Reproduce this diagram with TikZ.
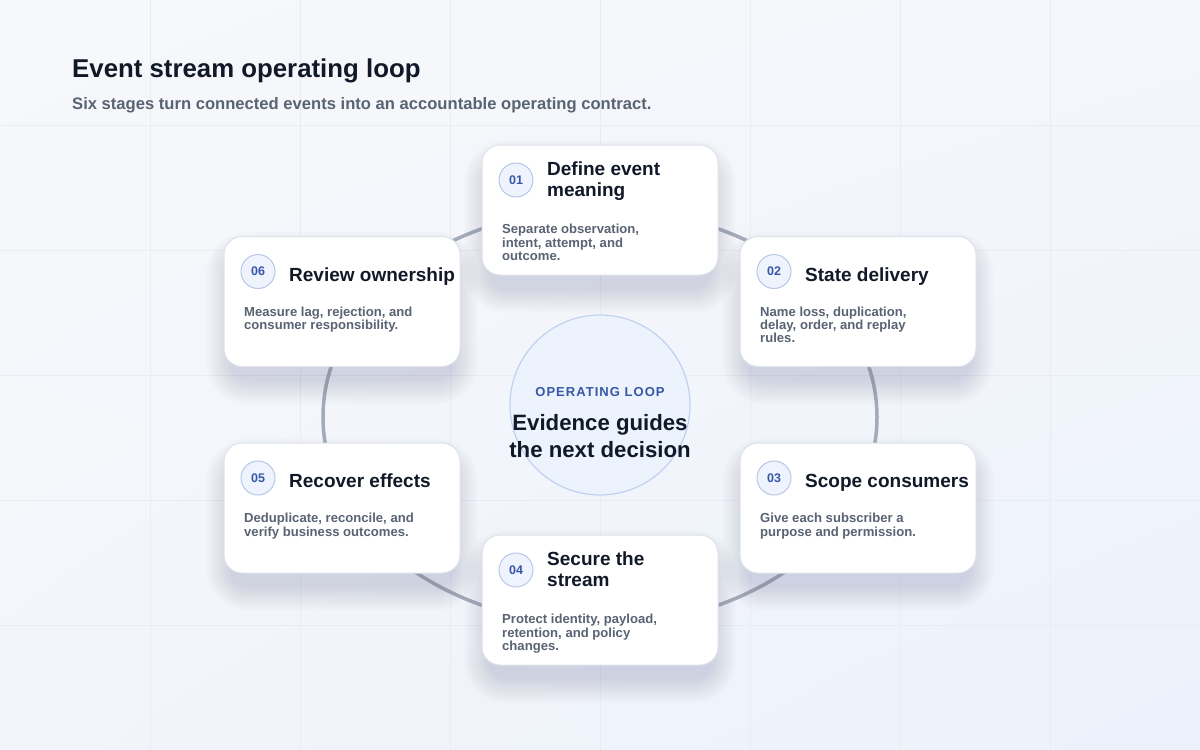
\documentclass[tikz,border=0pt]{standalone}
\usepackage{fontspec}
\setmainfont{Liberation Sans}
\usetikzlibrary{shadings}
\definecolor{bgUL}{HTML}{F7F8FB}
\definecolor{bgUR}{HTML}{F4F6FB}
\definecolor{bgLL}{HTML}{F2F5FA}
\definecolor{bgLR}{HTML}{ECF1FB}
\definecolor{gridc}{HTML}{E8ECF3}
\definecolor{ringc}{HTML}{A4ABB8}
\definecolor{cardborder}{HTML}{DDE2EA}
\definecolor{shadowc}{HTML}{2A3A6A}
\definecolor{titlec}{HTML}{111827}
\definecolor{descc}{HTML}{596373}
\definecolor{badgetext}{HTML}{3757A6}
\definecolor{badgefill}{HTML}{EEF3FD}
\definecolor{badgeborder}{HTML}{B7C8E6}
\definecolor{hubfill}{HTML}{EDF3FD}
\definecolor{hubborder}{HTML}{BFD1EE}
\tikzset{
  cardbox/.style={draw=cardborder, line width=1pt, fill=white, rounded corners=18pt,
    minimum width=236pt, minimum height=130pt, inner sep=0pt},
  badge/.style={circle, draw=badgeborder, line width=1pt, fill=badgefill, minimum size=34pt,
    inner sep=0pt, text=badgetext, font=\bfseries\fontsize{12.5}{14}\selectfont},
  stagetitle/.style={anchor=north west, inner sep=0pt, align=left, text=titlec,
    font=\bfseries\fontsize{19}{21}\selectfont},
  stagedesc/.style={anchor=north west, inner sep=0pt, align=left, text=descc,
    font=\bfseries\fontsize{13.1}{13.4}\selectfont},
  ringline/.style={draw=ringc, line width=3.5pt},
}
% #1 id, #2 cx, #3 cy, #4 number, #5 title, #6 description, #7 title offset, #8 desc offset
\newcommand\stagecard[8]{%
  \node[cardbox] (#1) at (#2,#3) {};
  \node[badge] (#1num) at (#2-84,#3-30) {#4};
  \node[stagetitle] (#1title) at (#2-53,#3-65+#7) {#5};
  \node[stagedesc] (#1desc) at (#2-98,#3-65+#8) {#6};
}
\newcommand\cardshade[2]{%
  \foreach \s in {0,1.5,...,24}{%
    \pgfmathsetmacro\rr{18+\s}%
    \fill[shadowc, opacity=0.008, rounded corners=\rr pt]
      (#1-112-\s,#2-60-\s+14) rectangle (#1+112+\s,#2+65+\s+14);
  }%
}
\begin{document}
\begin{tikzpicture}[x=1pt,y=-1pt]
\useasboundingbox (0,0) rectangle (1200,750);
% background
\shade[upper left=bgUL, upper right=bgUR, lower left=bgLL, lower right=bgLR] (0,0) rectangle (1200,750);
\foreach \gx in {150,300,...,1050} \draw[gridc, line width=1pt] (\gx,0) -- (\gx,750);
\foreach \gy in {125,250,...,625} \draw[gridc, line width=1pt] (0,\gy) -- (1200,\gy);
% heading
\node[anchor=base west, inner sep=0pt, text=titlec, font=\bfseries\fontsize{25.8}{30}\selectfont] (heading) at (72,77) {Event stream operating loop};
\node[anchor=base west, inner sep=0pt, text=descc, font=\bfseries\fontsize{16.6}{19}\selectfont] (subheading) at (72,109) {Six stages turn connected events into an accountable operating contract.};
% ring
\draw[ringline] (600,417) ellipse [x radius=277pt, y radius=208pt];
% hub
\node[circle, draw=hubborder, line width=1.2pt, fill=hubfill, minimum size=180pt, inner sep=0pt] (hub) at (600,405) {};
\node[inner sep=0pt, text=badgetext, font=\bfseries\fontsize{13}{15}\selectfont\addfontfeature{LetterSpace=8}] (hubtag) at (600,392) {OPERATING LOOP};
\node[anchor=north, inner sep=0pt, align=center, text=titlec, font=\bfseries\fontsize{22.2}{27}\selectfont] (hubtext) at (600,414) {Evidence guides\\the next decision};
% shadows
\cardshade{600}{210}
\cardshade{858}{301.5}
\cardshade{858}{508}
\cardshade{600}{600}
\cardshade{342}{508}
\cardshade{342}{301.5}
% cards
\stagecard{s1}{600}{210}{01}{Define event\\meaning}{Separate observation,\\intent, attempt, and\\outcome.}{17}{79}
\stagecard{s2}{858}{301.5}{02}{State delivery}{Name loss, duplication,\\delay, order, and replay\\rules.}{31}{70}
\stagecard{s3}{858}{508}{03}{Scope consumers}{Give each subscriber a\\purpose and permission.}{31}{70}
\stagecard{s4}{600}{600}{04}{Secure the\\stream}{Protect identity, payload,\\retention, and policy\\changes.}{17}{79}
\stagecard{s5}{342}{508}{05}{Recover effects}{Deduplicate, reconcile, and\\verify business outcomes.}{31}{70}
\stagecard{s6}{342}{301.5}{06}{Review ownership}{Measure lag, rejection, and\\consumer responsibility.}{31}{70}
\end{tikzpicture}
\end{document}
